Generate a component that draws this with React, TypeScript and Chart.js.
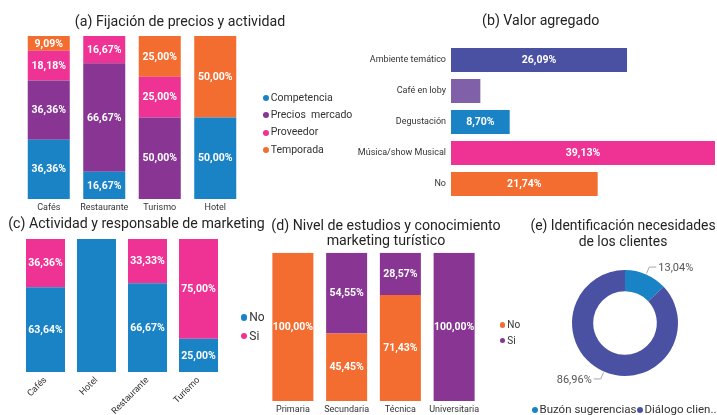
import React, { useEffect, useRef } from "react";
import { Chart, registerables } from "chart.js";

Chart.register(...registerables);

// ---------- data ----------
const pricingTitle = ["(a) Fijación de precios y actividad"];
const pricingCategories = ["Cafés", "Restaurante", "Turismo", "Hotel"];
const pricingSeries = ["Competencia", "Precios  mercado", "Proveedor", "Temporada"];
const pricingCompetencia = [36.36, 16.67, 0, 50];
const pricingPreciosMercado = [36.36, 66.67, 50, 0];
const pricingProveedor = [18.18, 16.67, 25, 0];
const pricingTemporada = [9.09, 0, 25, 50];

const valueTitle = ["(b) Valor agregado"];
const valueCategories = ["Ambiente temático", "Café en loby", "Degustación", "Música/show Musical", "No"];
const valueShares = [26.09, 4.35, 8.7, 39.13, 21.74];

const marketingTitle = ["(c) Actividad y responsable de marketing"];
const marketingCategories = ["Cafés", "Hotel", "Restaurante", "Turismo"];
const marketingSeries = ["No", "Si"];
const marketingNo = [63.64, 100, 66.67, 25];
const marketingSi = [36.36, 0, 33.33, 75];
const marketingHiddenLabels = ["Hotel"];

const educationTitle = ["(d) Nivel de estudios y conocimiento", "marketing turístico"];
const educationCategories = ["Primaria", "Secundaria", "Técnica", "Universitaria"];
const educationSeries = ["No", "Si"];
const educationNo = [100, 45.45, 71.43, 0];
const educationSi = [0, 54.55, 28.57, 100];

const needsTitle = ["(e) Identificación necesidades", "de los clientes"];
const needsCategories = ["Buzón sugerencias", "Diálogo clientes"];
const needsLegendLabels = ["Buzón sugerencias", "Diálogo clien..."];
const needsShares = [13.04, 86.96];

// ---------- styles ----------
const FONT = "Roboto, 'Open Sans', sans-serif";
const BLUE = "#1A83C6";
const PURPLE = "#883593";
const PINK = "#EE3394";
const ORANGE = "#F26D2F";
const INDIGO = "#4A51A3";
const LAVENDER = "#8060A9";
const TITLE = "#252423";
const TICK = "#333333";
const LEGEND = "#333333";

const fmt = (v: number) => v.toFixed(2).replace(".", ",") + "%";

const barLabelPlugin = {
  id: "barLabels",
  afterDatasetsDraw(chart: any, _args: any, opts: any) {
    const ctx = chart.ctx;
    const horizontal = chart.options.indexAxis === "y";
    const hidden: string[] = (opts && opts.hiddenCategories) || [];
    ctx.save();
    ctx.font = `bold 10.5px ${FONT}`;
    ctx.fillStyle = "#ffffff";
    ctx.textAlign = "center";
    ctx.textBaseline = "middle";
    chart.data.datasets.forEach((ds: any, di: number) => {
      const meta = chart.getDatasetMeta(di);
      meta.data.forEach((el: any, i: number) => {
        const v = ds.data[i];
        if (!v) return;
        if (hidden.includes(chart.data.labels[i])) return;
        const text = fmt(v);
        const w = ctx.measureText(text).width;
        const p = el.getProps(["x", "y", "base"], true);
        const len = horizontal ? Math.abs(p.x - p.base) : Math.abs(p.base - p.y);
        const need = horizontal ? w + 8 : 12;
        if (len < need) return;
        const c = el.getCenterPoint();
        ctx.fillText(text, c.x, c.y + 0.5);
      });
    });
    ctx.restore();
  },
};

const donutLabelPlugin = {
  id: "donutLabels",
  afterDatasetsDraw(chart: any) {
    const ctx = chart.ctx;
    const meta = chart.getDatasetMeta(0);
    const ds = chart.data.datasets[0];
    ctx.save();
    ctx.font = `11px ${FONT}`;
    ctx.textBaseline = "middle";
    meta.data.forEach((arc: any, i: number) => {
      const p = arc.getProps(["x", "y", "startAngle", "endAngle", "outerRadius"], true);
      const mid = (p.startAngle + p.endAngle) / 2;
      const cos = Math.cos(mid);
      const sin = Math.sin(mid);
      const r0 = p.outerRadius + 1;
      const r1 = p.outerRadius + 8;
      const x0 = p.x + cos * r0;
      const y0 = p.y + sin * r0;
      const x1 = p.x + cos * r1;
      const y1 = p.y + sin * r1;
      const dir = cos >= 0 ? 1 : -1;
      const x2 = x1 + dir * 7;
      ctx.strokeStyle = "#a6a6a6";
      ctx.lineWidth = 1;
      ctx.beginPath();
      ctx.moveTo(x0, y0);
      ctx.lineTo(x1, y1);
      ctx.lineTo(x2, y1);
      ctx.stroke();
      ctx.fillStyle = "#555555";
      ctx.textAlign = dir > 0 ? "left" : "right";
      ctx.fillText(fmt(ds.data[i]), x2 + dir * 2, y1 + 1);
    });
    ctx.restore();
  },
};

const xCategoryAxis = (height: number, padding: number, rotation = 0) => ({
  stacked: true,
  grid: { display: false, drawTicks: false },
  border: { display: false },
  ticks: {
    font: { family: FONT, size: 9 },
    color: TICK,
    padding,
    autoSkip: false,
    maxRotation: rotation,
    minRotation: rotation,
  },
  afterFit: (s: any) => {
    s.height = height;
  },
});

const basePlugins = {
  legend: { display: false },
  tooltip: { enabled: false },
  title: { display: false },
};

function ChartBox({ left, top, width, height, make }: any) {
  const ref = useRef<HTMLCanvasElement>(null);
  useEffect(() => {
    const chart = new Chart(ref.current as HTMLCanvasElement, make());
    return () => chart.destroy();
  }, []);
  return (
    <canvas
      ref={ref}
      width={width}
      height={height}
      style={{ position: "absolute", left, top, width, height, display: "block" }}
    />
  );
}

function Title({ cx, baseline, lines, size = 14.2 }: any) {
  const s = size;
  const L = 15.4;
  const off = (L - 1.172 * s) / 2 + 0.928 * s;
  return (
    <div
      style={{
        position: "absolute",
        left: cx - 200,
        width: 400,
        top: baseline - off,
        textAlign: "center",
        fontFamily: FONT,
        fontSize: s,
        lineHeight: L + "px",
        color: TITLE,
        whiteSpace: "nowrap",
      }}
    >
      {lines.map((l: string) => (
        <div key={l}>{l}</div>
      ))}
    </div>
  );
}

function LegendItem({ x, y, color, text, size, dot = 6, gap = 2 }: any) {
  return (
    <div
      style={{
        position: "absolute",
        left: x - dot / 2,
        top: y - size * 0.7,
        height: size * 1.4,
        display: "flex",
        alignItems: "center",
        whiteSpace: "pre",
        fontFamily: FONT,
        fontSize: size,
        color: LEGEND,
        lineHeight: 1,
      }}
    >
      <span
        style={{
          width: dot,
          height: dot,
          borderRadius: "50%",
          background: color,
          marginRight: gap,
          flex: "none",
        }}
      />
      {text}
    </div>
  );
}

const makePricing = () => ({
  type: "bar",
  data: {
    labels: pricingCategories,
    datasets: [
      { label: pricingSeries[0], data: pricingCompetencia, backgroundColor: BLUE },
      { label: pricingSeries[1], data: pricingPreciosMercado, backgroundColor: PURPLE },
      { label: pricingSeries[2], data: pricingProveedor, backgroundColor: PINK },
      { label: pricingSeries[3], data: pricingTemporada, backgroundColor: ORANGE },
    ],
  },
  options: {
    animation: false,
    responsive: false,
    layout: { padding: { left: 21, right: 117, top: 36, bottom: 0 } },
    datasets: { bar: { categoryPercentage: 1, barPercentage: 0.757 } },
    plugins: basePlugins,
    scales: {
      x: xCategoryAxis(17, 3),
      y: { stacked: true, display: false, min: 0, max: 100 },
    },
  },
  plugins: [barLabelPlugin],
});

const makeValue = () => ({
  type: "bar",
  data: {
    labels: valueCategories,
    datasets: [
      {
        label: "Valor agregado",
        data: valueShares,
        backgroundColor: [INDIGO, LAVENDER, BLUE, PINK, ORANGE],
      },
    ],
  },
  options: {
    indexAxis: "y",
    animation: false,
    responsive: false,
    layout: { padding: { left: 0, right: 2, top: 44.4, bottom: 4 } },
    datasets: { bar: { categoryPercentage: 1, barPercentage: 0.775 } },
    plugins: basePlugins,
    scales: {
      x: { display: false, min: 0, max: Math.max(...valueShares) },
      y: {
        grid: { display: false, drawTicks: false },
        border: { display: false },
        ticks: { font: { family: FONT, size: 9 }, color: TICK, padding: 5, autoSkip: false },
        afterFit: (s: any) => {
          s.width = 111;
        },
      },
    },
  },
  plugins: [barLabelPlugin],
});

const makeMarketing = () => ({
  type: "bar",
  data: {
    labels: marketingCategories,
    datasets: [
      { label: marketingSeries[0], data: marketingNo, backgroundColor: BLUE },
      { label: marketingSeries[1], data: marketingSi, backgroundColor: PINK },
    ],
  },
  options: {
    animation: false,
    responsive: false,
    layout: { padding: { left: 20, right: 48, top: 29, bottom: 0 } },
    datasets: { bar: { categoryPercentage: 1, barPercentage: 0.765 } },
    plugins: { ...basePlugins, barLabels: { hiddenCategories: marketingHiddenLabels } },
    scales: {
      x: xCategoryAxis(43, 3, 45),
      y: { stacked: true, display: false, min: 0, max: 100 },
    },
  },
  plugins: [barLabelPlugin],
});

const makeEducation = () => ({
  type: "bar",
  data: {
    labels: educationCategories,
    datasets: [
      { label: educationSeries[0], data: educationNo, backgroundColor: ORANGE },
      { label: educationSeries[1], data: educationSi, backgroundColor: PURPLE },
    ],
  },
  options: {
    animation: false,
    responsive: false,
    layout: { padding: { left: 0, right: 25, top: 42.7, bottom: 0 } },
    datasets: { bar: { categoryPercentage: 1, barPercentage: 0.763 } },
    plugins: basePlugins,
    scales: {
      x: xCategoryAxis(14, 3),
      y: { stacked: true, display: false, min: 0, max: 100 },
    },
  },
  plugins: [barLabelPlugin],
});

const makeNeeds = () => ({
  type: "doughnut",
  data: {
    labels: needsCategories,
    datasets: [
      {
        data: needsShares,
        backgroundColor: [BLUE, INDIGO],
        borderWidth: 0,
      },
    ],
  },
  options: {
    animation: false,
    responsive: false,
    cutout: "60%",
    layout: { padding: { left: 42, right: 42, top: 60, bottom: 14 } },
    plugins: basePlugins,
  },
  plugins: [donutLabelPlugin],
});

export default function App() {
  return (
    <div
      style={{
        position: "absolute",
        left: 0,
        top: 0,
        width: 717,
        height: 415,
        overflow: "hidden",
        background: "#ffffff",
      }}
    >
      <ChartBox left={0} top={0} width={360} height={216} make={makePricing} />
      <ChartBox left={340} top={0} width={377} height={210} make={makeValue} />
      <ChartBox left={0} top={210} width={272} height={205} make={makeMarketing} />
      <ChartBox left={266} top={210} width={240} height={205} make={makeEducation} />
      <ChartBox left={530} top={210} width={190} height={180} make={makeNeeds} />

      <Title cx={180} baseline={26.7} lines={pricingTitle} />
      <Title cx={540.7} baseline={26} lines={valueTitle} />
      <Title cx={136.5} baseline={228.3} lines={marketingTitle} />
      <Title cx={386} baseline={230.5} lines={educationTitle} />
      <Title cx={623} baseline={230.7} lines={needsTitle} size={13.9} />

      <LegendItem x={265.7} y={98.3} color={BLUE} text={pricingSeries[0]} size={10.5} />
      <LegendItem x={265.7} y={115.5} color={PURPLE} text={pricingSeries[1]} size={10.5} />
      <LegendItem x={265.7} y={132.7} color={PINK} text={pricingSeries[2]} size={10.5} />
      <LegendItem x={265.7} y={149.9} color={ORANGE} text={pricingSeries[3]} size={10.5} />

      <LegendItem x={244} y={317.3} color={BLUE} text={marketingSeries[0]} size={12} dot={6.5} />
      <LegendItem x={244} y={336} color={PINK} text={marketingSeries[1]} size={12} dot={6.5} />

      <LegendItem x={502.5} y={325} color={ORANGE} text={educationSeries[0]} size={10} dot={5.5} />
      <LegendItem x={502.5} y={340.7} color={PURPLE} text={educationSeries[1]} size={10} dot={5.5} />

      <LegendItem x={534.5} y={410} color={BLUE} text={needsLegendLabels[0]} size={11.5} />
      <LegendItem x={639.5} y={410} color={INDIGO} text={needsLegendLabels[1]} size={11.5} />
    </div>
  );
}
